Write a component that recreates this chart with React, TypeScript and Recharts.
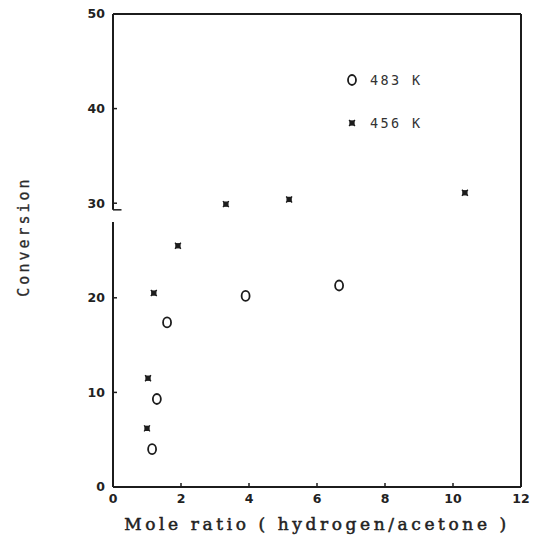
import React from 'react';
import { ScatterChart, Scatter, XAxis, YAxis, ReferenceLine, Legend, Label } from 'recharts';

const series483 = [
  { x: 1.15, y: 4.0 },
  { x: 1.29, y: 9.3 },
  { x: 1.59, y: 17.4 },
  { x: 3.9, y: 20.2 },
  { x: 6.65, y: 21.3 },
];
const series456 = [
  { x: 1.0, y: 6.2 },
  { x: 1.03, y: 11.5 },
  { x: 1.2, y: 20.5 },
  { x: 1.91, y: 25.5 },
  { x: 3.32, y: 29.9 },
  { x: 5.18, y: 30.4 },
  { x: 10.35, y: 31.1 },
];
const xTicks = [0, 2, 4, 6, 8, 10, 12];
const yTicks = [0, 10, 20, 30, 40, 50];
const seriesNames = ['483 K', '456 K'];
const xTitle = 'Mole ratio ( hydrogen/acetone )';
const yTitle = 'Conversion';
const axisBreak = [28.0, 29.3];

const INK = '#1c1c1c';

const CircleMark = (props: any) => {
  const { cx, cy } = props;
  if (cx == null || cy == null) return null;
  return <ellipse cx={cx} cy={cy} rx={4} ry={5} fill="none" stroke={INK} strokeWidth={1.8} />;
};

const StarMark = (props: any) => {
  const { cx, cy } = props;
  if (cx == null || cy == null) return null;
  return (
    <g stroke={INK} strokeWidth={1.3}>
      <line x1={cx - 3} y1={cy - 3} x2={cx + 3} y2={cy + 3} />
      <line x1={cx - 3} y1={cy + 3} x2={cx + 3} y2={cy - 3} />
      <rect x={cx - 2} y={cy - 2} width={4} height={4} fill={INK} />
    </g>
  );
};

const LegendContent = () => (
  <div style={{ fontFamily: 'DejaVu Sans Mono', fontSize: 13.5, color: '#333', letterSpacing: 2.4 }}>
    <div style={{ display: 'flex', alignItems: 'center', height: 16 }}>
      <svg width={12} height={14}><CircleMark cx={5} cy={7} /></svg>
      <span style={{ marginLeft: 11 }}>{seriesNames[0]}</span>
    </div>
    <div style={{ display: 'flex', alignItems: 'center', height: 16, marginTop: 27 }}>
      <svg width={12} height={14}><StarMark cx={5} cy={7} /></svg>
      <span style={{ marginLeft: 11 }}>{seriesNames[1]}</span>
    </div>
  </div>
);

const YTitle = (props: any) => {
  const vb = props.viewBox || {};
  const x = 24;
  const y = (vb.y || 0) + (vb.height || 0) / 2 - 14;
  return (
    <text
      x={x}
      y={y}
      transform={`rotate(-90, ${x}, ${y})`}
      textAnchor="middle"
      dominantBaseline="central"
      fontFamily="DejaVu Sans Mono"
      fontSize={15}
      letterSpacing={3}
      fill="#2a2a2a"
      stroke="#2a2a2a"
      strokeWidth={0.3}
    >
      {yTitle}
    </text>
  );
};

const tickStyle = { fill: '#222', fontFamily: 'DejaVu Sans', fontSize: 12.5, fontWeight: 'bold' as const };

export default function App() {
  return (
    <div style={{ width: 533, height: 538, background: '#fff', overflow: 'hidden' }}>
      <style>{`html,body{margin:0;padding:0;overflow:hidden;background:#fff}`}</style>
      <ScatterChart width={533} height={538} margin={{ top: 14, right: 12, bottom: 0, left: 0 }}>
        <XAxis
          type="number"
          dataKey="x"
          domain={[0, 12]}
          ticks={xTicks}
          interval={0}
          height={51}
          tickSize={-4}
          tickMargin={11}
          axisLine={{ stroke: INK, strokeWidth: 2 }}
          tickLine={{ stroke: INK, strokeWidth: 1.5 }}
          tick={tickStyle}
        >
          <Label
            value={xTitle}
            position="insideBottom"
            offset={8}
            style={{ fontFamily: 'DejaVu Serif', fontSize: 17, letterSpacing: 3.6, fill: '#222', stroke: '#222', strokeWidth: 0.5 }}
          />
        </XAxis>
        <YAxis
          type="number"
          dataKey="y"
          domain={[0, 50]}
          ticks={yTicks}
          interval={0}
          width={113}
          tickSize={-4}
          tickMargin={12}
          axisLine={false}
          tickLine={{ stroke: INK, strokeWidth: 1.5 }}
          tick={tickStyle}
        >
          <Label content={YTitle} />
        </YAxis>
        <ReferenceLine segment={[{ x: 0, y: 0 }, { x: 0, y: axisBreak[0] }]} stroke={INK} strokeWidth={2} />
        <ReferenceLine segment={[{ x: 0, y: axisBreak[1] }, { x: 0, y: 50 }]} stroke={INK} strokeWidth={2} />
        <ReferenceLine segment={[{ x: 0, y: axisBreak[1] }, { x: 0.25, y: axisBreak[1] }]} stroke={INK} strokeWidth={1.5} />
        <ReferenceLine y={50} stroke={INK} strokeWidth={2} />
        <ReferenceLine x={12} stroke={INK} strokeWidth={2} />
        <Legend
          layout="vertical"
          align="center"
          verticalAlign="middle"
          content={LegendContent}
          wrapperStyle={{ position: 'absolute', left: 347, top: 72, width: 120, height: 60 }}
        />
        <Scatter name={seriesNames[0]} data={series483} shape={CircleMark} isAnimationActive={false} />
        <Scatter name={seriesNames[1]} data={series456} shape={StarMark} isAnimationActive={false} />
      </ScatterChart>
    </div>
  );
}
